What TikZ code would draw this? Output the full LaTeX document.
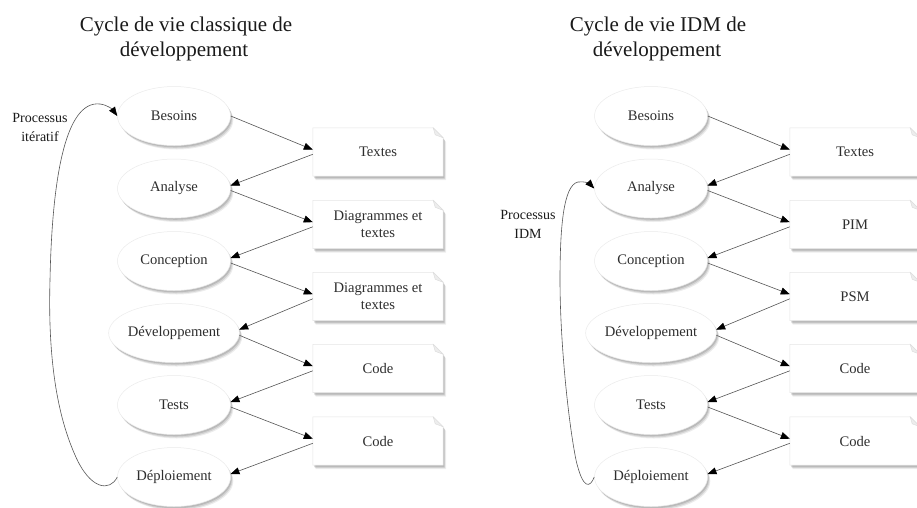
\documentclass[tikz,border=0pt]{standalone}
\usepackage{fontspec}
\setmainfont{Liberation Serif}
\usetikzlibrary{arrows.meta,shadows,shapes.geometric}
\pgfdeclarelayer{background}
\pgfdeclarelayer{backdrop}
\pgfsetlayers{backdrop,background,main}
\definecolor{ink}{HTML}{2E2E2E}
\definecolor{titleink}{HTML}{1A1A1A}
\definecolor{wire}{HTML}{555555}
\begin{document}
\begin{tikzpicture}[x=1pt,y=-1pt,
  softshadow/.style={
      drop shadow={shadow xshift=2.8pt, shadow yshift=-4pt, fill=black, opacity=0.07},
      drop shadow={shadow xshift=2pt, shadow yshift=-3pt, fill=black, opacity=0.10},
      drop shadow={shadow xshift=1.2pt, shadow yshift=-1.8pt, fill=black, opacity=0.12}},
  phase/.style={ellipse, minimum width=113pt, minimum height=59pt, inner sep=0pt,
      fill=white, draw=black!8, line width=0.5pt, softshadow,
      font=\fontsize{14.6}{16}\selectfont, text=ink},
  artefact/.style={rectangle, minimum width=130pt, minimum height=48pt, inner sep=0pt,
      align=center, font=\fontsize{14.6}{17}\selectfont, text=ink},
  docshape/.style={fill=white, draw=black!10, line width=0.5pt, softshadow},
  fold/.style={fill=black!7, draw=black!14, line width=0.4pt},
  flow/.style={draw=wire, line width=0.6pt, -{Triangle[length=9pt,width=7pt,color=black,fill=black]}},
  loopback/.style={draw=wire, line width=0.6pt, -{Triangle[length=9pt,width=7pt,color=black,fill=black]}},
  heading/.style={font=\fontsize{21}{25}\selectfont, text=titleink, anchor=base},
  sidelabel/.style={align=center, font=\fontsize{14}{19}\selectfont, text=titleink}
]
\begin{pgfonlayer}{backdrop}
\fill[white] (0,0) rectangle (917,507);
\end{pgfonlayer}
\useasboundingbox (0,0) rectangle (917,507);

% ---------- classic life cycle ----------
\node[heading] (lt1) at (186,31) {Cycle de vie classique de};
\node[heading] (lt2) at (184,56) {développement};

\node[phase] (lb) at (174,116)   {Besoins};
\node[phase] (la) at (174,188.5) {Analyse};
\node[phase] (lc) at (174,261)   {Conception};
\node[phase] (ld) at (174,333)   {Développement};
\node[phase] (lt) at (174,405)   {Tests};
\node[phase] (lp) at (174,477)   {Déploiement};

\node[artefact] (l1) at (378,152)   {Textes};
\node[artefact] (l2) at (378,224.5) {Diagrammes et\\textes};
\node[artefact] (l3) at (378,296.5) {Diagrammes et\\textes};
\node[artefact] (l4) at (378,368.5) {Code};
\node[artefact] (l5) at (378,441)   {Code};

\node[sidelabel] (literate) at (40,127) {Processus\\itératif};

% ---------- MDE life cycle ----------
\node[heading] (rt1) at (658,31) {Cycle de vie IDM de};
\node[heading] (rt2) at (657,56) {développement};

\node[phase] (rb) at (651,116)   {Besoins};
\node[phase] (ra) at (651,188.5) {Analyse};
\node[phase] (rc) at (651,261)   {Conception};
\node[phase] (rd) at (651,333)   {Développement};
\node[phase] (rt) at (651,405)   {Tests};
\node[phase] (rp) at (651,477)   {Déploiement};

\node[artefact] (r1) at (855,152)   {Textes};
\node[artefact] (r2) at (855,224.5) {PIM};
\node[artefact] (r3) at (855,296.5) {PSM};
\node[artefact] (r4) at (855,368.5) {Code};
\node[artefact] (r5) at (855,441)   {Code};

\node[sidelabel] (ridm) at (528,224) {Processus\\IDM};

% document outlines with a folded corner, behind the labels
\begin{pgfonlayer}{background}
\foreach \b in {l1,l2,l3,l4,l5,r1,r2,r3,r4,r5}{
  \path[docshape] (\b.south west) -- (\b.north west) -- ([xshift=-10pt]\b.north east)
     -- ([yshift=-10pt]\b.north east) -- (\b.south east) -- cycle;
  \path[fold] ([xshift=-10pt]\b.north east) -- ([xshift=-8pt,yshift=-7pt]\b.north east)
     -- ([yshift=-10pt]\b.north east) -- cycle;
}
\end{pgfonlayer}

% phase -> artefact -> next phase
\foreach \p in {l,r}{
  \draw[flow] (\p b.east) -- (\p1.178);
  \draw[flow] (\p1.182) -- (\p a.3);
  \draw[flow] (\p a.-2) -- (\p2.178);
  \draw[flow] (\p2.182) -- (\p c.3);
  \draw[flow] (\p c.-2) -- (\p3.178);
  \draw[flow] (\p3.182) -- (\p d.3);
  \draw[flow] (\p d.-2) -- (\p4.178);
  \draw[flow] (\p4.182) -- (\p t.3);
  \draw[flow] (\p t.-2) -- (\p5.178);
  \draw[flow] (\p5.182) -- (\p p.3);
}

% iteration loops
\draw[loopback] (lp.west) .. controls (110,492) and (90,490) .. (75,455)
   .. controls (55,410) and (48,350) .. (50,280)
   .. controls (52,180) and (65,100) .. (100,104)
   .. controls (108,105) and (113,110) .. (lb.west);
\draw[loopback] (rp.west) .. controls (590,488) and (583,490) .. (576,460)
   .. controls (568,420) and (560,340) .. (560,280)
   .. controls (560,230) and (563,185) .. (578,182)
   .. controls (585,181) and (590,184) .. (ra.west);
\end{tikzpicture}
\end{document}
